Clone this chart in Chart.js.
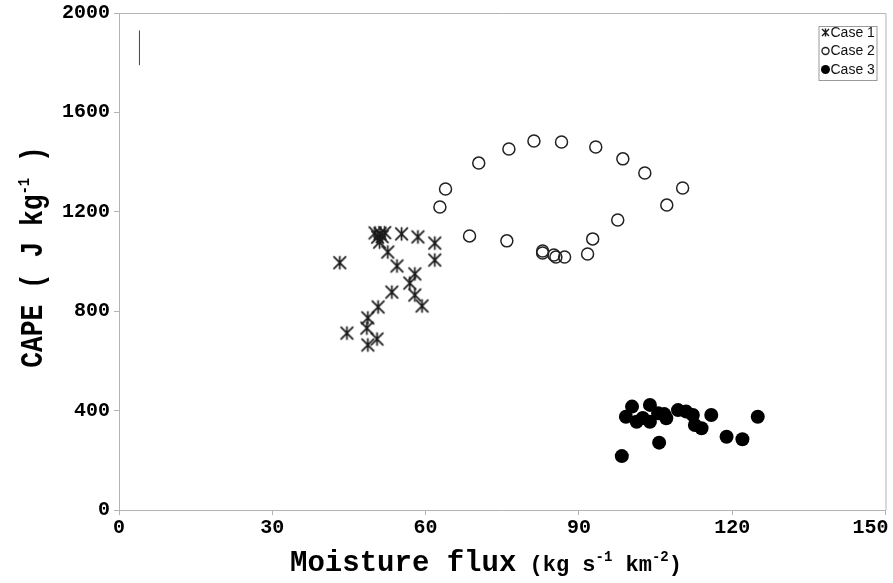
<!DOCTYPE html>
<html>
<head>
<meta charset="utf-8">
<script src="https://cdn.jsdelivr.net/npm/chart.js@4.4.0/dist/chart.umd.min.js"></script>
<style>
  html, body { margin: 0; padding: 0; background: #fff; }
  #wrap { width: 893px; height: 583px; }
</style>
</head>
<body>
<div id="wrap"><canvas id="c" width="893" height="583"></canvas></div>
<script>
// Moisture flux (kg s-1 km-2) vs CAPE (J kg-1) for three cases
const case1X = [43.2, 44.6, 50.1, 51.1, 52.0, 55.3, 58.5, 61.8, 61.8, 51.0, 52.6, 54.4, 57.9, 56.9, 53.4, 57.9, 59.3, 50.7, 48.7, 48.5, 50.5, 48.7, 50.6, 51.5];
const case1Y = [995, 712, 1115, 1112, 1116, 1111, 1099, 1074, 1006, 1078, 1038, 982, 950, 913, 877, 865, 821, 817, 773, 732, 688, 664, 1098, 1100];

const case2X = [63.9, 62.8, 70.4, 76.3, 81.2, 86.6, 93.3, 98.6, 102.9, 110.3, 107.2, 97.6, 92.7, 91.7, 87.2, 85.5, 85.1, 82.9, 82.9, 75.9, 68.6];
const case2Y = [1292, 1219, 1396, 1453, 1485, 1481, 1461, 1413, 1356, 1296, 1227, 1167, 1091, 1030, 1018, 1018, 1026, 1034, 1042, 1083, 1103];

const case3X = [100.4, 103.9, 99.2, 101.3, 103.9, 105.5, 107.1, 109.4, 111.0, 112.3, 112.7, 114.0, 115.9, 125.0, 118.9, 122.0, 105.7, 98.4, 102.5, 106.7];
const case3Y = [416, 423, 375, 355, 355, 389, 369, 402, 396, 382, 342, 329, 382, 375, 295, 285, 271, 217, 370, 386];

// short vertical reference bar near the top-left corner
const barX = [4, 4];
const barY = [1790, 1930];

const xTicks = [0, 30, 60, 90, 120, 150];
const yTicks = [0, 400, 800, 1200, 1600, 2000];
const seriesLabels = ['Case 1', 'Case 2', 'Case 3'];

const toPoints = (xs, ys) => xs.map((x, i) => ({ x: x, y: ys[i] }));

// six-armed asterisk marker: an X with a vertical stroke through it
function asterisk(half, lw, color) {
  const s = Math.ceil(2 * half + lw + 2);
  const c = document.createElement('canvas');
  c.width = s; c.height = s;
  const g = c.getContext('2d');
  const m = s / 2;
  g.strokeStyle = color;
  g.lineWidth = lw;
  g.beginPath();
  g.moveTo(m - half, m - half); g.lineTo(m + half, m + half);
  g.moveTo(m - half, m + half); g.lineTo(m + half, m - half);
  g.moveTo(m, m - half - 0.5); g.lineTo(m, m + half + 0.5);
  g.stroke();
  return c;
}

const starBig = asterisk(6.3, 1.7, '#1a1a1a');
const starSmall = asterisk(3.5, 1.4, '#1a1a1a');

const MONO = "'Liberation Mono', 'DejaVu Sans Mono', monospace";
const AXIS_GREY = '#b4b4b4';
const tickFont = { family: MONO, weight: 'bold', size: 20 };

// grey frame on top and right of the plot area
const framePlugin = {
  id: 'frame',
  beforeDatasetsDraw(chart) {
    const a = chart.chartArea, ctx = chart.ctx;
    ctx.save();
    ctx.strokeStyle = AXIS_GREY;
    ctx.lineWidth = 1;
    ctx.beginPath();
    ctx.moveTo(a.left, a.top + 0.5); ctx.lineTo(a.right + 0.5, a.top + 0.5);
    ctx.lineTo(a.right + 0.5, a.bottom);
    ctx.stroke();
    ctx.restore();
  }
};

// x tick labels: centred under each tick, the last one kept inside the canvas
const xLabelPlugin = {
  id: 'xTickLabels',
  afterDraw(chart) {
    const sx = chart.scales.x, ctx = chart.ctx;
    ctx.save();
    ctx.font = `bold ${tickFont.size}px ${MONO}`;
    ctx.fillStyle = '#000';
    ctx.textBaseline = 'top';
    sx.ticks.forEach((t, i) => {
      const px = sx.getPixelForValue(t.value);
      ctx.textAlign = i === sx.ticks.length - 1 ? 'right' : 'center';
      ctx.fillText(String(t.value), i === sx.ticks.length - 1 ? px + 3 : px, sx.top + 8);
    });
    ctx.restore();
  }
};

// draws a run of text pieces with their own fonts and vertical offsets
function drawRuns(ctx, runs, x, y) {
  let cx = x;
  runs.forEach(r => {
    ctx.font = r.font;
    ctx.fillText(r.t, cx, y + (r.dy || 0));
    cx += ctx.measureText(r.t).width;
  });
}
function runsWidth(ctx, runs) {
  let w = 0;
  runs.forEach(r => { ctx.font = r.font; w += ctx.measureText(r.t).width; });
  return w;
}

// axis titles with superscript units
const titlePlugin = {
  id: 'axisTitles',
  afterDraw(chart) {
    const ctx = chart.ctx;
    ctx.save();
    ctx.fillStyle = '#000';
    ctx.textBaseline = 'alphabetic';

    const xr = [
      { t: 'Moisture flux', font: `bold 29px ${MONO}` },
      { t: ' (kg s', font: `bold 22px ${MONO}` },
      { t: '-1', font: `bold 14px ${MONO}`, dy: -10 },
      { t: ' km', font: `bold 22px ${MONO}` },
      { t: '-2', font: `bold 14px ${MONO}`, dy: -10 },
      { t: ')', font: `bold 22px ${MONO}` }
    ];
    const xw = runsWidth(ctx, xr);
    drawRuns(ctx, xr, 486 - xw / 2, 571);

    const yr = [
      { t: 'CAPE ( J kg', font: `bold 32px ${MONO}` },
      { t: '-1', font: `bold 17px ${MONO}`, dy: -13 },
      { t: ' )', font: `bold 32px ${MONO}` }
    ];
    ctx.translate(42, 257);
    ctx.rotate(-Math.PI / 2);
    ctx.scale(0.82, 1);
    const yw = runsWidth(ctx, yr);
    drawRuns(ctx, yr, -yw / 2, 0);
    ctx.restore();
  }
};

// boxed legend in the top-right corner of the plot area
const legendPlugin = {
  id: 'boxLegend',
  afterDraw(chart) {
    const ctx = chart.ctx;
    const a = chart.chartArea;
    const left = a.right - 67, top = 26, w = 58, h = 54;
    ctx.save();
    ctx.fillStyle = '#fff';
    ctx.fillRect(left, top, w, h);
    ctx.strokeStyle = '#9a9a9a';
    ctx.lineWidth = 1;
    ctx.strokeRect(left + 0.5, top + 0.5, w, h);
    ctx.font = "14px 'Liberation Sans', Arial, sans-serif";
    ctx.textBaseline = 'middle';
    ctx.fillStyle = '#111';
    const rowY = [32.5, 51, 69.5];
    seriesLabels.forEach((lab, i) => {
      const mx = left + 7, my = rowY[i];
      if (i === 0) {
        ctx.drawImage(starSmall, mx - starSmall.width / 2, my - starSmall.height / 2);
      } else {
        ctx.beginPath();
        ctx.arc(mx, my, i === 1 ? 3.5 : 4.5, 0, Math.PI * 2);
        if (i === 1) { ctx.strokeStyle = '#222'; ctx.lineWidth = 1.4; ctx.stroke(); }
        else { ctx.fillStyle = '#000'; ctx.fill(); ctx.fillStyle = '#111'; }
      }
      ctx.fillText(lab, left + 12, my + 0.5);
    });
    ctx.restore();
  }
};

new Chart(document.getElementById('c'), {
  type: 'scatter',
  data: {
    datasets: [
      {
        label: seriesLabels[0],
        data: toPoints(case1X, case1Y),
        pointStyle: starBig,
        pointRadius: 6
      },
      {
        label: seriesLabels[1],
        data: toPoints(case2X, case2Y),
        pointStyle: 'circle',
        pointRadius: 6,
        borderColor: '#222',
        borderWidth: 1.5,
        backgroundColor: 'rgba(255,255,255,0)'
      },
      {
        label: seriesLabels[2],
        data: toPoints(case3X, case3Y),
        pointStyle: 'circle',
        pointRadius: 7,
        borderWidth: 0,
        backgroundColor: '#000'
      },
      {
        type: 'line',
        data: toPoints(barX, barY),
        borderColor: '#444',
        borderWidth: 1,
        pointRadius: 0,
        fill: false
      }
    ]
  },
  options: {
    responsive: false,
    animation: false,
    events: [],
    layout: { padding: { left: 0, top: 13, right: 7, bottom: 0 } },
    plugins: {
      legend: { display: false },
      tooltip: { enabled: false }
    },
    scales: {
      x: {
        type: 'linear',
        min: xTicks[0],
        max: xTicks[xTicks.length - 1],
        afterBuildTicks: s => { s.ticks = xTicks.map(v => ({ value: v })); },
        afterFit: s => { s.height = 73; s.paddingRight = 0; s.paddingLeft = 0; },
        ticks: { display: false },
        grid: { drawOnChartArea: false, tickLength: 5, color: AXIS_GREY },
        border: { color: AXIS_GREY, width: 1 }
      },
      y: {
        type: 'linear',
        min: yTicks[0],
        max: yTicks[yTicks.length - 1],
        afterBuildTicks: s => { s.ticks = yTicks.map(v => ({ value: v })); },
        afterFit: s => { s.width = 119; s.paddingTop = 0; s.paddingBottom = 0; },
        ticks: { font: tickFont, color: '#000', padding: 4, callback: v => String(v) },
        grid: { drawOnChartArea: false, tickLength: 5, color: AXIS_GREY },
        border: { color: AXIS_GREY, width: 1 }
      }
    }
  },
  plugins: [framePlugin, xLabelPlugin, titlePlugin, legendPlugin]
});
</script>
</body>
</html>
